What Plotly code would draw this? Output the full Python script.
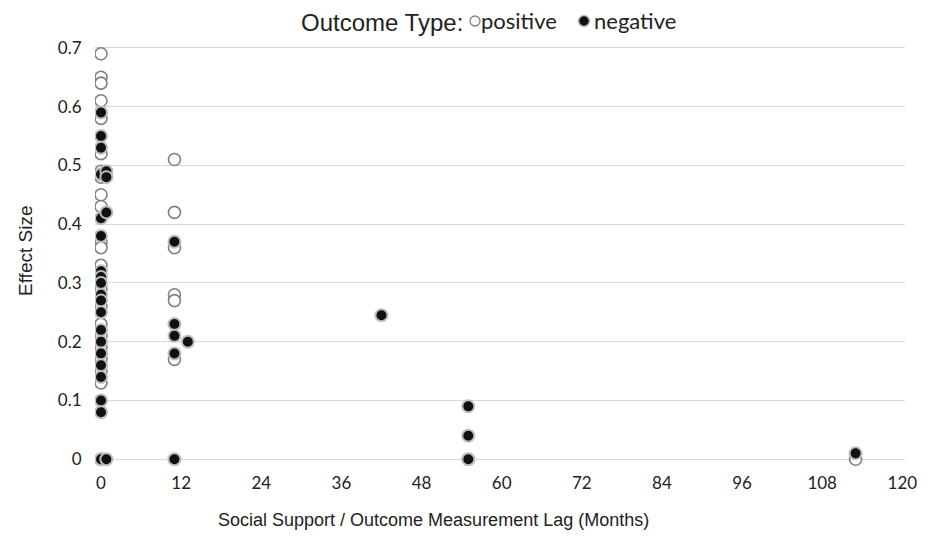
import plotly.graph_objects as go

# Positive outcomes (open circles)
pos_lag = [0]*22 + [11]*6 + [55, 113]
pos_es = [0.69, 0.65, 0.64, 0.61, 0.58, 0.52, 0.49, 0.48, 0.45, 0.43, 0.37, 0.36,
          0.33, 0.29, 0.26, 0.23, 0.21, 0.19, 0.17, 0.15, 0.13, 0.0,
          0.51, 0.42, 0.36, 0.28, 0.27, 0.17,
          0.0, 0.0]

# Negative outcomes (filled circles)
neg_lag = [0]*20 + [0.8]*4 + [11]*5 + [13, 42, 55, 55, 55, 113]
neg_es = [0.59, 0.55, 0.53, 0.485, 0.41, 0.38, 0.32, 0.31, 0.30, 0.28, 0.27, 0.25,
          0.22, 0.20, 0.18, 0.16, 0.14, 0.10, 0.08, 0.0,
          0.49, 0.48, 0.42, 0.0,
          0.37, 0.23, 0.21, 0.18, 0.0,
          0.20, 0.245, 0.09, 0.04, 0.0, 0.01]

x_ticks = [0, 12, 24, 36, 48, 60, 72, 84, 96, 108, 120]
y_ticks = [0, 0.1, 0.2, 0.3, 0.4, 0.5, 0.6, 0.7]
y_tick_labels = ["0", "0.1", "0.2", "0.3", "0.4", "0.5", "0.6", "0.7"]

W, H = 930, 542
ML, MR, MT, MB = 95, 25, 42, 71
PW, PH = W - ML - MR, H - MT - MB


def px_x(px):
    return (px - ML) / PW


def px_y(py):
    return (H - MB - py) / PH


POS_MARKER = dict(size=12, color="white", line=dict(color="#808080", width=1.6))
NEG_MARKER = dict(size=12, color="#111111", line=dict(color="#bdbdbd", width=2))

fig = go.Figure()
fig.add_trace(go.Scatter(x=pos_lag, y=pos_es, mode="markers", name="positive",
                         marker=POS_MARKER))
fig.add_trace(go.Scatter(x=neg_lag, y=neg_es, mode="markers", name="negative",
                         marker=NEG_MARKER))

title_font = dict(family="Liberation Sans, Arial", color="#222")
item_font = dict(family="Lato", size=22, color="#222")

annotations = [
    dict(text="Social Support / Outcome Measurement Lag (Months)",
         xref="paper", yref="paper", x=px_x(433), y=px_y(520),
         xanchor="center", yanchor="middle", showarrow=False,
         font=dict(size=18, **title_font)),
    dict(text="Effect Size", textangle=-90,
         xref="paper", yref="paper", x=px_x(25), y=px_y(251),
         xanchor="center", yanchor="middle", showarrow=False,
         font=dict(size=19, **title_font)),
    # legend
    dict(text="Outcome Type:", xref="paper", yref="paper",
         x=px_x(382), y=px_y(22), xanchor="center", yanchor="middle",
         showarrow=False, font=dict(size=24, **title_font)),
    dict(text="positive", xref="paper", yref="paper",
         x=px_x(479), y=px_y(21), xanchor="left", yanchor="middle",
         showarrow=False, font=item_font),
    dict(text="negative", xref="paper", yref="paper",
         x=px_x(592), y=px_y(21), xanchor="left", yanchor="middle",
         showarrow=False, font=item_font),
]

shapes = [
    dict(type="circle", xref="paper", yref="paper", xsizemode="pixel", ysizemode="pixel",
         xanchor=px_x(475), yanchor=px_y(21), x0=-5, x1=5, y0=-5, y1=5,
         fillcolor="white", line=dict(color="#808080", width=1.3)),
    dict(type="circle", xref="paper", yref="paper", xsizemode="pixel", ysizemode="pixel",
         xanchor=px_x(584), yanchor=px_y(21), x0=-5.5, x1=5.5, y0=-5.5, y1=5.5,
         fillcolor="#111111", line=dict(color="#bdbdbd", width=1.5)),
]

fig.update_layout(
    width=W, height=H,
    margin=dict(l=ML, r=MR, t=MT, b=MB, autoexpand=False),
    plot_bgcolor="white", paper_bgcolor="white",
    showlegend=False,
    xaxis=dict(
        range=[-0.9, 120.4],
        tickvals=x_ticks,
        ticktext=[str(v) for v in x_ticks],
        showgrid=False, zeroline=False, showline=False,
        tickfont=dict(family="Lato", size=17, color="#222"),
        ticks="", automargin=False,
    ),
    yaxis=dict(
        range=[-0.02, 0.71],
        tickvals=y_ticks, ticktext=y_tick_labels,
        showgrid=True, gridcolor="#d9d9d9", gridwidth=1.3,
        zeroline=False, showline=False,
        tickfont=dict(family="Lato", size=17, color="#222"),
        ticks="outside", ticklen=9, tickcolor="white", automargin=False,
    ),
    annotations=annotations,
    shapes=shapes,
)

fig.write_html("out.html", config={"displayModeBar": False},
               post_script="document.body.style.margin='0';")
